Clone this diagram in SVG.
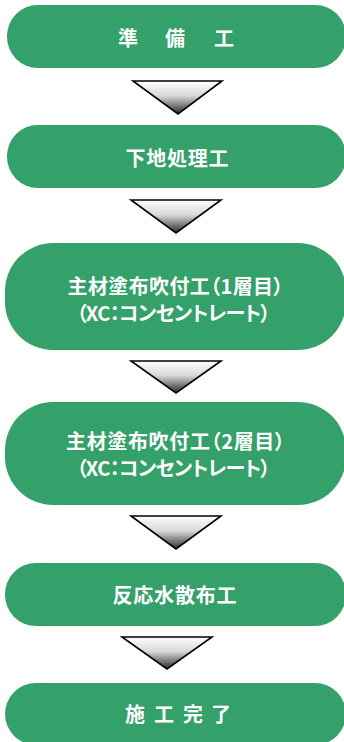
<svg xmlns="http://www.w3.org/2000/svg" width="344" height="742" viewBox="0 0 344 742">
<defs>
<linearGradient id="tri" x1="0" y1="0" x2="0" y2="1">
<stop offset="0" stop-color="#ffffff"/>
<stop offset="0.45" stop-color="#d8d8d8"/>
<stop offset="1" stop-color="#2a2a2a"/>
</linearGradient>
<style>
.node{fill:#34a06a;}
.t{fill:#ffffff;font-family:"Noto Sans CJK JP","Noto Sans CJK SC",sans-serif;font-weight:bold;font-size:20px;text-anchor:middle;dominant-baseline:central;font-feature-settings:"palt";}
.arrow{fill:url(#tri);stroke:#000000;stroke-width:1.6;stroke-linejoin:miter;}
</style>
</defs>
<rect width="344" height="742" fill="#ffffff"/>
<g id="connectors">
<polygon class="arrow" points="133,81 222,81 178,114"/>
<polygon class="arrow" points="131,200 221,200 176,233"/>
<polygon class="arrow" points="131,361 221,361 176,393"/>
<polygon class="arrow" points="131,516 221,516 176,549"/>
<polygon class="arrow" points="122,637 212,637 167,669"/>
</g>
<g id="n1">
<rect class="node" x="7" y="5" width="339" height="63" rx="31" ry="31"/>
<text class="t" x="128" y="37">準</text>
<text class="t" x="175" y="37">備</text>
<text class="t" x="224" y="37">工</text>
</g>
<g id="n2">
<rect class="node" x="7" y="125" width="339" height="63" rx="31" ry="31"/>
<text class="t" x="177" y="157" textLength="103" lengthAdjust="spacing">下地処理工</text>
</g>
<g id="n3">
<rect class="node" x="5" y="243" width="341" height="107" rx="48" ry="48"/>
<text class="t" x="175.5" y="285" textLength="216" lengthAdjust="spacing">主材塗布吹付工（1層目）</text>
<text class="t" x="173.5" y="312" textLength="194" lengthAdjust="spacing">（XC：コンセントレート）</text>
</g>
<g id="n4">
<rect class="node" x="5" y="402" width="341" height="103" rx="48" ry="48"/>
<text class="t" x="175.5" y="440" textLength="219" lengthAdjust="spacing">主材塗布吹付工（2層目）</text>
<text class="t" x="173.5" y="467" textLength="194" lengthAdjust="spacing">（XC：コンセントレート）</text>
</g>
<g id="n5">
<rect class="node" x="5" y="563" width="341" height="63" rx="31" ry="31"/>
<text class="t" x="174.5" y="594" textLength="124" lengthAdjust="spacing">反応水散布工</text>
</g>
<g id="n6">
<rect class="node" x="5" y="683" width="341" height="62" rx="31" ry="31"/>
<text class="t" x="135" y="713">施</text>
<text class="t" x="164" y="713">工</text>
<text class="t" x="193" y="713">完</text>
<text class="t" x="221" y="713">了</text>
</g>
</svg>
